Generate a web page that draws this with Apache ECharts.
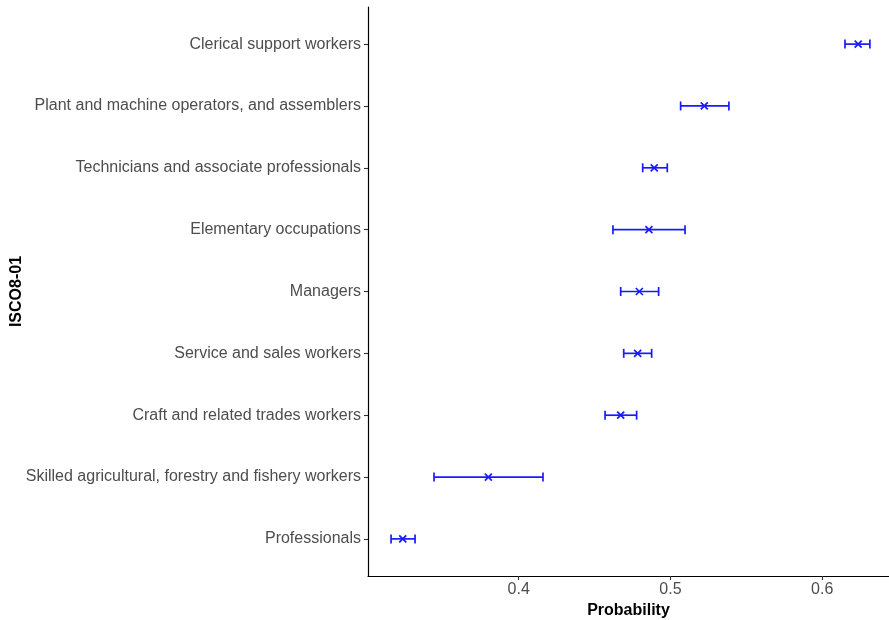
<!DOCTYPE html>
<html>
<head>
<meta charset="utf-8">
<script src="https://cdn.jsdelivr.net/npm/echarts@6/dist/echarts.min.js"></script>
<style>
  html, body { margin: 0; padding: 0; background: #ffffff; }
  #chart { width: 889px; height: 620px; }
</style>
</head>
<body>
<div id="chart"></div>
<script>
// Occupation groups, bottom to top
const categories = [
  'Professionals',
  'Skilled agricultural, forestry and fishery workers',
  'Craft and related trades workers',
  'Service and sales workers',
  'Managers',
  'Elementary occupations',
  'Technicians and associate professionals',
  'Plant and machine operators, and assemblers',
  'Clerical support workers'
];
// Point estimates and confidence bounds
const estimate = [0.3236, 0.3800, 0.4672, 0.4784, 0.4795, 0.4858, 0.4893, 0.5223, 0.6237];
const lower    = [0.3159, 0.3442, 0.4569, 0.4692, 0.4672, 0.4621, 0.4817, 0.5067, 0.6150];
const upper    = [0.3317, 0.4160, 0.4777, 0.4876, 0.4922, 0.5096, 0.4979, 0.5385, 0.6314];
const xTicks = [0.4, 0.5, 0.6];

const rows = categories.map((c, i) => [i + 1, estimate[i], lower[i], upper[i]]);
const blue = '#1a1aff';
const font = 'Liberation Sans, Arial, sans-serif';

const chart = echarts.init(document.getElementById('chart'), null, { renderer: 'canvas' });

chart.setOption({
  animation: false,
  backgroundColor: '#ffffff',
  textStyle: { fontFamily: font },
  grid: { left: 368, right: 0, top: 7, bottom: 44, containLabel: false, outerBoundsMode: 'none' },
  xAxis: {
    type: 'value',
    min: 0.3007,
    max: 0.644,
    name: 'Probability',
    nameLocation: 'middle',
    nameGap: 27,
    nameMoveOverlap: false,
    nameTextStyle: { color: '#000', fontSize: 16, fontWeight: 'bold', fontFamily: font },
    axisLine: { show: true, lineStyle: { color: '#000', width: 1.2 } },
    axisTick: { show: true, length: 4, customValues: xTicks, lineStyle: { color: '#333', width: 1.1 } },
    axisLabel: {
      customValues: xTicks,
      color: '#4d4d4d', fontSize: 16, margin: 6,
      formatter: v => v.toFixed(1)
    },
    splitLine: { show: false }
  },
  yAxis: {
    type: 'value',
    min: 0.4,
    max: 9.6,
    name: 'ISCO8-01',
    nameLocation: 'middle',
    nameGap: 343,
    nameRotate: 90,
    nameMoveOverlap: false,
    nameTextStyle: { color: '#000', fontSize: 16, fontWeight: 'bold', fontFamily: font },
    axisLine: { show: true, lineStyle: { color: '#000', width: 1.2 } },
    axisTick: { show: true, length: 4, customValues: categories.map((c, i) => i + 1), lineStyle: { color: '#333', width: 1.1 } },
    axisLabel: {
      customValues: categories.map((c, i) => i + 1),
      color: '#4d4d4d', fontSize: 16, margin: 7,
      formatter: v => categories[Math.round(v) - 1] || ''
    },
    splitLine: { show: false }
  },
  series: [{
    type: 'custom',
    data: rows,
    encode: { x: [1, 2, 3], y: 0 },
    renderItem: function (params, api) {
      const y = api.value(0);
      const c = api.coord([api.value(1), y]);
      const lo = api.coord([api.value(2), y]);
      const hi = api.coord([api.value(3), y]);
      const cap = 4.5;
      const m = 3.5;
      const style = { stroke: blue, lineWidth: 1.7, fill: null };
      return {
        type: 'group',
        children: [
          { type: 'line', shape: { x1: lo[0], y1: lo[1], x2: hi[0], y2: hi[1] }, style },
          { type: 'line', shape: { x1: lo[0], y1: lo[1] - cap, x2: lo[0], y2: lo[1] + cap }, style },
          { type: 'line', shape: { x1: hi[0], y1: hi[1] - cap, x2: hi[0], y2: hi[1] + cap }, style },
          { type: 'line', shape: { x1: c[0] - m, y1: c[1] - m, x2: c[0] + m, y2: c[1] + m }, style },
          { type: 'line', shape: { x1: c[0] - m, y1: c[1] + m, x2: c[0] + m, y2: c[1] - m }, style }
        ]
      };
    }
  }]
});
</script>
</body>
</html>
